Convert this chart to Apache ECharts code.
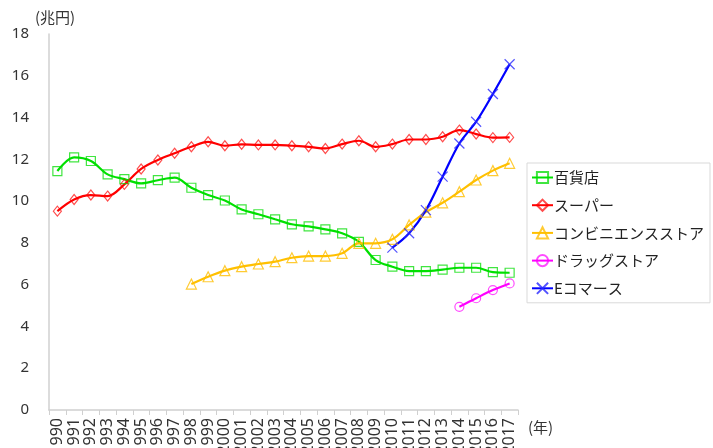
<!DOCTYPE html>
<html><head><meta charset="utf-8">
<script src="https://cdn.jsdelivr.net/npm/echarts@6/dist/echarts.min.js"></script>
<style>html,body{margin:0;padding:0;background:#fff}#c{width:713px;height:448px}</style>
</head><body><div id="c"></div>
<script>
const years = ['1990','1991','1992','1993','1994','1995','1996','1997','1998','1999','2000','2001','2002','2003','2004','2005','2006','2007','2008','2009','2010','2011','2012','2013','2014','2015','2016','2017'];
const depart = [11.44,12.09,11.92,11.28,11.05,10.85,11.0,11.12,10.64,10.29,10.03,9.6,9.37,9.13,8.89,8.79,8.65,8.46,8.05,7.18,6.86,6.65,6.65,6.72,6.81,6.81,6.6,6.57];
const supermarket = [9.52,10.08,10.29,10.24,10.8,11.54,11.97,12.29,12.6,12.84,12.65,12.72,12.69,12.69,12.65,12.6,12.52,12.73,12.89,12.6,12.73,12.95,12.95,13.08,13.4,13.21,13.04,13.05];
const convenience = [null,null,null,null,null,null,null,null,6.03,6.38,6.67,6.86,6.99,7.1,7.29,7.37,7.37,7.5,7.98,7.98,8.17,8.86,9.47,9.92,10.45,11.01,11.46,11.81];
const drugstore = [null,null,null,null,null,null,null,null,null,null,null,null,null,null,null,null,null,null,null,null,null,null,null,null,4.94,5.35,5.74,6.06];
const ecommerce = [null,null,null,null,null,null,null,null,null,null,null,null,null,null,null,null,null,null,null,null,7.77,8.46,9.57,11.17,12.76,13.8,15.13,16.55];
const names = ['百貨店','スーパー','コンビニエンスストア','ドラッグストア','Eコマース'];
const yTicks = {min:0, max:18, interval:2};

const FONT = '"Noto Sans", "Noto Sans CJK JP", sans-serif';
const JFONT = '"Noto Sans CJK JP", sans-serif';
function mk(name, data, color, markerColor, symbol, size){
  return {
    name, type:'line', data, smooth:0.35, connectNulls:false,
    symbol, symbolSize:size,
    lineStyle:{color, width:2.2},
    itemStyle:{color:'rgba(255,255,255,0)', borderColor:markerColor, borderWidth:1.2},
    emphasis:{disabled:true}
  };
}
const chart = echarts.init(document.getElementById('c'), null, {renderer:'canvas'});
chart.setOption({
  animation:false,
  textStyle:{fontFamily:FONT},
  grid:{left:49, right:195, top:34, bottom:38, containLabel:false, outerBoundsMode:'none'},
  legend:{
    orient:'vertical', left:527, top:163,
    padding:[7,6,7,4], itemGap:12.7, itemWidth:21, itemHeight:14,
    borderColor:'#d9d9d9', borderWidth:1,
    textStyle:{fontSize:15, color:'#222', fontFamily:JFONT, padding:[0,0,0,-4]},
    data:names
  },
  xAxis:{
    type:'category', data:years, boundaryGap:true,
    axisLine:{lineStyle:{color:'#d0d0d0', width:1.5}},
    axisTick:{show:true, interval:0, length:5, lineStyle:{color:'#d0d0d0'}},
    axisLabel:{rotate:90, interval:0, fontSize:16, color:'#333', margin:8, fontFamily:FONT}
  },
  yAxis:{
    type:'value', min:yTicks.min, max:yTicks.max, interval:yTicks.interval,
    axisLine:{show:true, lineStyle:{color:'#d0d0d0', width:1.5}},
    axisTick:{show:false}, splitLine:{show:false},
    axisLabel:{fontSize:15, color:'#333', margin:20, fontFamily:FONT}
  },
  graphic:[
    {type:'text', left:35, top:10, style:{text:'(兆円)', fontSize:15, fill:'#333', fontFamily:JFONT}},
    {type:'text', left:528, top:420, style:{text:'(年)', fontSize:15, fill:'#333', fontFamily:JFONT}}
  ],
  series:[
    mk(names[0], depart, '#00e000', 'rgba(0,220,0,0.75)', 'rect', 9),
    mk(names[1], supermarket, '#ff0000', 'rgba(255,0,0,0.7)', 'diamond', [8,10]),
    mk(names[2], convenience, '#ffc000', 'rgba(255,190,0,0.8)', 'triangle', 10),
    mk(names[3], drugstore, '#ff00ff', 'rgba(255,0,255,0.7)', 'circle', 9),
    mk(names[4], ecommerce, '#0000ff', 'rgba(40,40,255,0.8)', 'path://M0,0L10,10M10,0L0,10', 10)
  ]
});
</script></body></html>
